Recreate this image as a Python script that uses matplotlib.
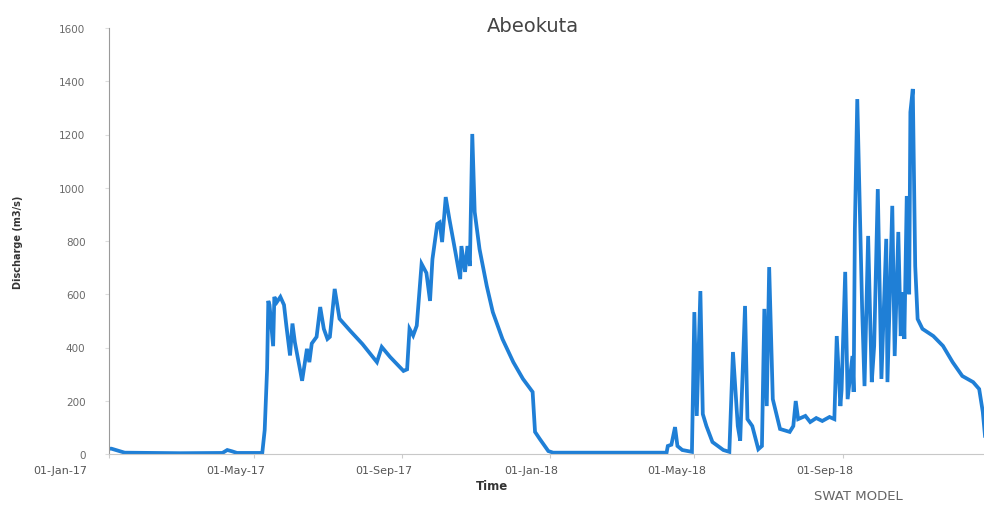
import matplotlib
matplotlib.use("Agg")
import matplotlib.pyplot as plt
import matplotlib.transforms as mtransforms
import pandas as pd

# Data: days since 01-Jan-2017 and discharge (m3/s)
day_offsets = [0, 2, 13, 59, 94, 98, 102, 106, 127, 129, 131, 132, 133, 136, 137, 139, 142, 145,
               147, 150, 152, 154, 160, 164, 166, 168, 172, 175, 178, 181, 183, 187, 191, 200,
               210, 222, 226, 233, 244, 247, 249, 252, 255, 259, 263, 266, 268, 272, 274, 276,
               279, 282, 287, 291, 292, 295, 297, 299, 301, 303, 307, 313, 318, 326, 335, 343,
               351, 353, 357, 364, 368, 462, 463, 466, 469, 471, 475, 483, 485, 487, 490, 492,
               495, 500, 509, 514, 517, 521, 523, 527, 529, 533, 538, 541, 543, 545, 547, 550,
               556, 564, 567, 569, 571, 577, 581, 586, 591, 597, 601, 603, 606, 607, 610, 612,
               616, 617, 618, 620, 624, 626, 629, 632, 634, 637, 640, 644, 645, 649, 651, 654,
               656, 658, 659, 661, 663, 664, 666, 668, 670, 674, 683, 691, 699, 707, 716, 721,
               724, 726]
discharge = [20, 20, 5, 3, 4, 15, 10, 4, 4, 90, 320, 575, 560, 405, 590, 570, 590, 560,
             480, 370, 490, 420, 275, 395, 345, 415, 440, 552, 470, 432, 440, 620, 508, 462,
             413, 345, 402, 364, 312, 318, 470, 445, 482, 714, 680, 575, 732, 864, 870, 796,
             965, 883, 759, 657, 781, 684, 781, 706, 1202, 909, 770, 631, 533, 432, 345, 282,
             233, 83, 56, 11, 5, 5, 30, 35, 101, 30, 15, 8, 533, 143, 612, 150,
             105, 45, 15, 8, 383, 105, 50, 556, 131, 105, 18, 30, 545, 180, 702, 206,
             94, 83, 105, 199, 131, 143, 120, 135, 124, 139, 131, 443, 180, 240, 684, 206,
             368, 233, 845, 1333, 550, 255, 819, 270, 406, 995, 282, 808, 270, 932, 368, 834,
             443, 608, 432, 969, 600, 1284, 1371, 706, 507, 470, 443, 406, 345, 293, 270, 244,
             158, 60]

start_date = "2017-01-01"
tick_dates = ["2017-01-01", "2017-05-01", "2017-09-01", "2018-01-01", "2018-05-01", "2018-09-01"]
tick_labels = ["01-Jan-17", "01-May-17", "01-Sep-17", "01-Jan-18", "01-May-18", "01-Sep-18"]
y_ticks = [0, 200, 400, 600, 800, 1000, 1200, 1400, 1600]

dates = pd.Timestamp(start_date) + pd.to_timedelta(day_offsets, unit="D")

fig = plt.figure(figsize=(9.84, 5.06), dpi=100)
ax = fig.add_axes([109 / 984, 1 - 455 / 506, 1 - 109 / 984, (455 - 29) / 506])

ax.plot(dates, discharge, color="#1f7fd6", lw=2.7, solid_joinstyle="miter")

ax.set_ylim(0, 1600)
ax.set_xlim(pd.Timestamp(start_date), pd.Timestamp(start_date) + pd.Timedelta(days=725))
ax.set_yticks(y_ticks)
ax.set_yticklabels([str(v) for v in y_ticks], fontsize=7.5, color="#6a6a6a")
ax.set_xticks(pd.to_datetime(tick_dates))
ax.set_xticklabels(tick_labels, fontsize=8, color="#555555")

for s in ["top", "right"]:
    ax.spines[s].set_visible(False)
ax.spines["left"].set_color("#9a9a9a")
ax.spines["bottom"].set_color("#c8c8c8")
ax.tick_params(axis="y", length=3, color="#dddddd", pad=14)
ax.tick_params(axis="x", length=3, color="#cccccc", pad=5)

# shift x tick labels left like the reference
for i, lab in enumerate(ax.get_xticklabels()):
    dx = -49 if i == 0 else -18
    lab.set_transform(lab.get_transform() + mtransforms.ScaledTranslation(dx / 100, 0, fig.dpi_scale_trans))

fig.text(533 / 984, 1 - 26 / 506, "Abeokuta", ha="center", va="center", fontsize=14, color="#444444")
fig.text(18 / 984, 1 - 242 / 506, "Discharge (m3/s)", rotation=90, ha="center", va="center",
         fontsize=7, fontweight="bold", color="#333333")
fig.text(492 / 984, 1 - 487 / 506, "Time", ha="center", va="center", fontsize=8.5,
         fontweight="bold", color="#333333")
fig.text(858 / 984, 1 - 497 / 506, "SWAT MODEL", ha="center", va="center", fontsize=9.5,
         color="#666666")

fig.savefig("out.png", dpi=100)
